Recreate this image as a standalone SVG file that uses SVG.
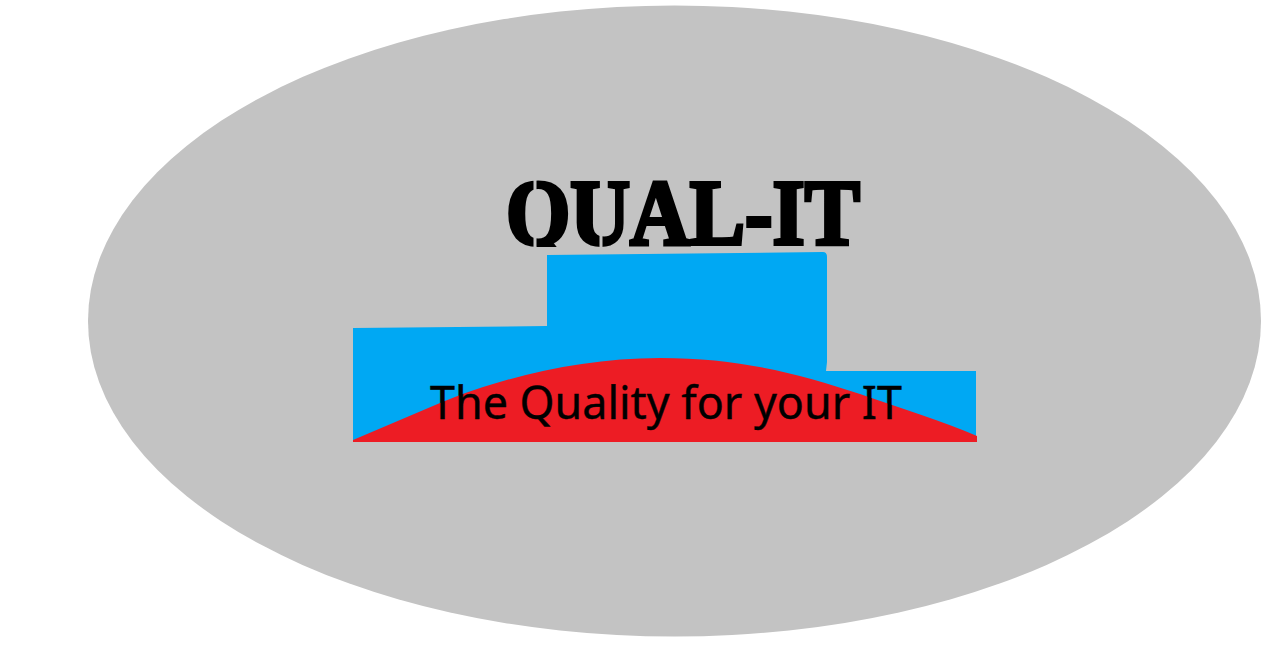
<svg xmlns="http://www.w3.org/2000/svg" width="1284" height="648" viewBox="0 0 1284 648">
<defs><clipPath id="titleClip"><rect x="490" y="170" width="390" height="77"/></clipPath></defs>
<style>
.title{font-family:"Liberation Serif",serif;font-weight:700;font-size:93px;fill:#000}
.tag{font-family:"Noto Sans","Open Sans",sans-serif;font-size:46px;fill:#000}
.bridge{stroke:#c3c3c3;stroke-width:3;fill:none}
</style>
<rect width="1284" height="648" fill="#fff"/>
<ellipse id="backdrop" cx="674.5" cy="321" rx="586.5" ry="315.5" fill="#c3c3c3"/>
<path id="steps" d="M353 328 L547 326 L547 255 L823 252 Q827 252 827 257 L827 362 L826 371 L976 371 L976 441 L353 441 Z" fill="#00a8f3"/>
<path id="hill" d="M353 440 L440 403 C500 378 580 358 660 358 C740 358 800 374 860 394 C900 408 945 422 977 436 L977 442 L353 442 Z" fill="#ed1c24"/>
<g clip-path="url(#titleClip)">
<text id="qualit" class="title" x="506" y="244" textLength="354" lengthAdjust="spacingAndGlyphs" stroke="#000" stroke-width="4">QUAL-IT</text>
</g>
<g id="stencil-bridges" class="bridge">
<path d="M535 176V190M535 232V250M601 224V250"/>
</g>
<text id="tagline" class="tag" x="430" y="419" textLength="472" lengthAdjust="spacingAndGlyphs" stroke="#000" stroke-width="0.4">The Quality for your IT</text>
</svg>
